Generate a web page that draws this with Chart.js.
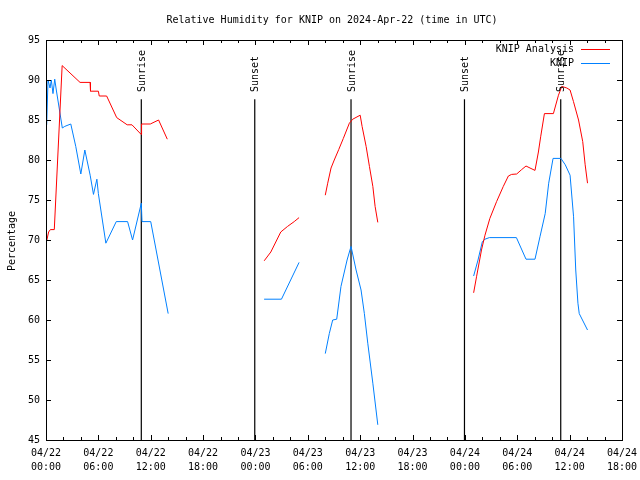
<!DOCTYPE html>
<html>
<head>
<meta charset="utf-8">
<title>Relative Humidity for KNIP</title>
<script src="https://cdn.jsdelivr.net/npm/chart.js@4.4.1/dist/chart.umd.min.js"></script>
<style>
    html, body { margin: 0; padding: 0; background: #ffffff; }
    #wrap { width: 640px; height: 480px; }
</style>
</head>
<body>
<div id="wrap"><canvas id="rhChart" width="640" height="480"></canvas></div>
<script>
// time axis is hours since 2024-04-22 00:00 UTC, null = gap in the record
const analysisHours = [
    0.1, 0.3, 0.5, 0.95, 1.85, 3.9, 5.05, 5.1, 6.0, 6.1, 6.95, 8.1, 9.3, 9.85, 10.9, 10.95, 11.95, 12.9, 13.9,
    19,
    25.0, 25.76, 26.9, 27.68, 28.44, 29.0,
    30,
    32.0, 32.28, 32.66, 33.03, 33.54, 34.07, 34.76, 35.15, 36.0, 36.22, 36.68, 37.06, 37.45, 37.71, 38.02,
    44,
    49.0, 49.33, 49.9, 50.3, 50.86, 51.63, 52.4, 52.98, 53.35, 53.93, 54.5, 55.0, 55.46, 56.03, 56.42, 56.68,
    57.11, 58.14, 58.72, 59.1, 59.68, 60.05, 60.44, 61.02, 61.5, 61.78, 62.05
];
const analysisValues = [
    70.0, 71.0, 71.3, 71.3, 91.8, 89.7, 89.7, 88.6, 88.6, 88.0, 88.0, 85.3, 84.4, 84.4, 83.2, 84.5, 84.5, 85.0, 82.6,
    null,
    67.4, 68.5, 71.0, 71.7, 72.3, 72.8,
    null,
    75.6, 77.1, 79.0, 80.0, 81.3, 82.7, 84.6, 85.1, 85.6, 84.2, 81.7, 79.2, 76.7, 74.2, 72.2,
    null,
    63.4, 65.4, 68.75, 70.6, 72.7, 74.8, 76.7, 78.0, 78.2, 78.25, 78.8, 79.25, 79.0, 78.7, 81.0, 82.9,
    85.8, 85.8, 88.1, 89.2, 89.0, 88.75, 87.3, 85.0, 82.3, 79.4, 77.1
];

const obsHours = [
    0.08, 0.23, 0.46, 0.61, 0.8, 1.0, 1.18, 1.87, 2.15, 2.84, 3.41, 3.99, 4.45, 5.06, 5.44, 5.83, 6.0, 6.86,
    8.05, 9.35, 9.92, 10.92, 11.0, 12.0, 14.0,
    19,
    24.99, 26.98, 29.0,
    30,
    32.0, 32.46, 32.85, 33.31, 33.8, 34.5, 34.95, 35.53, 36.1, 36.48, 36.87, 37.45, 38.02,
    44,
    49.0, 49.5, 50.0, 50.3, 50.8, 53.9, 55.0, 56.03, 56.6, 57.2, 57.6, 58.1, 59.0, 59.5, 60.05, 60.45,
    60.7, 60.95, 61.1, 62.05
];
const obsValues = [
    84.4, 90.0, 89.0, 90.0, 88.3, 90.1, 88.75, 84.0, 84.2, 84.5, 81.7, 78.25, 81.25, 78.1, 75.7, 77.6, 75.8, 69.6,
    72.3, 72.3, 70.0, 74.6, 72.3, 72.3, 60.8,
    null,
    62.6, 62.6, 67.2,
    null,
    55.8, 58.3, 60.0, 60.1, 64.2, 67.5, 69.2, 66.25, 63.75, 60.8, 57.1, 52.1, 46.9,
    null,
    65.5, 67.5, 69.8, 70.1, 70.3, 70.3, 67.6, 67.6, 70.4, 73.3, 77.1, 80.2, 80.2, 79.4, 78.1, 72.9,
    66.25, 62.1, 60.8, 58.75
];

const sunHours = [10.92, 23.92, 34.95, 47.95, 58.98];
const sunLabels = ['Sunrise', 'Sunset', 'Sunrise', 'Sunset', 'Sunrise'];
const sunLineTop = 87.6;

const tickDates = ['04/22', '04/22', '04/22', '04/22', '04/23', '04/23', '04/23', '04/23', '04/24', '04/24', '04/24', '04/24'];
const tickTimes = ['00:00', '06:00', '12:00', '18:00', '00:00', '06:00', '12:00', '18:00', '00:00', '06:00', '12:00', '18:00'];

const titleText = 'Relative Humidity for KNIP on 2024-Apr-22 (time in UTC)';
const yTitle = 'Percentage';
const seriesNames = ['KNIP Analysis', 'KNIP'];
const seriesColors = ['#ff0000', '#0080ff'];

const monoFont = '"DejaVu Sans Mono", "Liberation Mono", monospace';

function toPoints(hours, values) {
    return hours.map((h, i) => ({ x: h, y: values[i] }));
}

function sunPoints() {
    const pts = [];
    sunHours.forEach(h => {
        pts.push({ x: h, y: 45 }, { x: h, y: sunLineTop }, { x: h, y: null });
    });
    return pts;
}

// gnuplot style frame: box border, inward ticks, text drawn by hand
const framePlugin = {
    id: 'frame',
    afterDraw(chart) {
        const ctx = chart.ctx;
        const area = chart.chartArea;
        const xs = chart.scales.x;
        const ys = chart.scales.y;
        ctx.save();
        ctx.strokeStyle = '#000000';
        ctx.lineWidth = 1;
        ctx.beginPath();
        for (let h = 0; h <= 66; h += 2) {
            const px = Math.round(xs.getPixelForValue(h)) + 0.5;
            const len = h % 6 === 0 ? 5 : 3;
            ctx.moveTo(px, area.bottom);
            ctx.lineTo(px, area.bottom - len);
            ctx.moveTo(px, area.top);
            ctx.lineTo(px, area.top + len);
        }
        for (let v = 45; v <= 95; v += 5) {
            const py = Math.round(ys.getPixelForValue(v)) + 0.5;
            ctx.moveTo(area.left, py);
            ctx.lineTo(area.left + 5, py);
            ctx.moveTo(area.right, py);
            ctx.lineTo(area.right - 5, py);
        }
        ctx.stroke();
        ctx.strokeRect(Math.round(area.left) + 0.5, Math.round(area.top) + 0.5,
            Math.round(area.right - area.left), Math.round(area.bottom - area.top));

        ctx.fillStyle = '#000000';
        ctx.font = '10px ' + monoFont;
        ctx.textBaseline = 'middle';

        // title
        ctx.textAlign = 'center';
        ctx.fillText(titleText, 332, 20);

        // y axis title
        ctx.save();
        ctx.translate(12, 241);
        ctx.rotate(-Math.PI / 2);
        ctx.fillText(yTitle, 0, 0);
        ctx.restore();

        // sunrise / sunset labels above each line
        sunHours.forEach((h, i) => {
            const px = xs.getPixelForValue(h);
            ctx.save();
            ctx.translate(px + 1, 92);
            ctx.rotate(-Math.PI / 2);
            ctx.textAlign = 'left';
            ctx.fillText(sunLabels[i], 0, 0);
            ctx.restore();
        });

        // key, text then sample line
        seriesNames.forEach((name, i) => {
            const y = 49 + i * 14;
            ctx.textAlign = 'right';
            ctx.fillStyle = '#000000';
            ctx.fillText(name, 574, y);
            ctx.strokeStyle = seriesColors[i];
            ctx.beginPath();
            ctx.moveTo(581, Math.round(y) + 0.5);
            ctx.lineTo(610, Math.round(y) + 0.5);
            ctx.stroke();
        });
        ctx.restore();
    }
};

new Chart(document.getElementById('rhChart'), {
    type: 'line',
    data: {
        datasets: [
            {
                label: seriesNames[0],
                data: toPoints(analysisHours, analysisValues),
                borderColor: seriesColors[0],
                borderWidth: 1,
                pointRadius: 0,
                tension: 0
            },
            {
                label: seriesNames[1],
                data: toPoints(obsHours, obsValues),
                borderColor: seriesColors[1],
                borderWidth: 1,
                pointRadius: 0,
                tension: 0
            },
            {
                label: 'sun',
                data: sunPoints(),
                borderColor: '#000000',
                borderWidth: 1.2,
                pointRadius: 0,
                tension: 0
            }
        ]
    },
    options: {
        responsive: false,
        animation: false,
        events: [],
        layout: { padding: { left: 0, top: 40, right: 18, bottom: 0 } },
        plugins: {
            legend: { display: false },
            tooltip: { enabled: false },
            title: { display: false }
        },
        scales: {
            x: {
                type: 'linear',
                min: 0,
                max: 66,
                grid: { display: false, drawTicks: false },
                border: { display: false },
                afterFit: s => {
                    s.height = 40;
                    // keep the end labels from pulling the plot area in
                    s.paddingLeft = 0;
                    s.paddingRight = 0;
                },
                ticks: {
                    stepSize: 6,
                    autoSkip: false,
                    maxRotation: 0,
                    padding: 6,
                    color: '#000000',
                    font: { family: monoFont, size: 10, lineHeight: 1.4 },
                    callback: (value, index) => [tickDates[index], tickTimes[index]]
                }
            },
            y: {
                min: 45,
                max: 95,
                grid: { display: false, drawTicks: false },
                border: { display: false },
                afterFit: s => {
                    s.width = 46;
                    s.paddingTop = 0;
                    s.paddingBottom = 0;
                },
                ticks: {
                    stepSize: 5,
                    padding: 6,
                    color: '#000000',
                    font: { family: monoFont, size: 10 }
                }
            }
        }
    },
    plugins: [framePlugin]
});
</script>
</body>
</html>
